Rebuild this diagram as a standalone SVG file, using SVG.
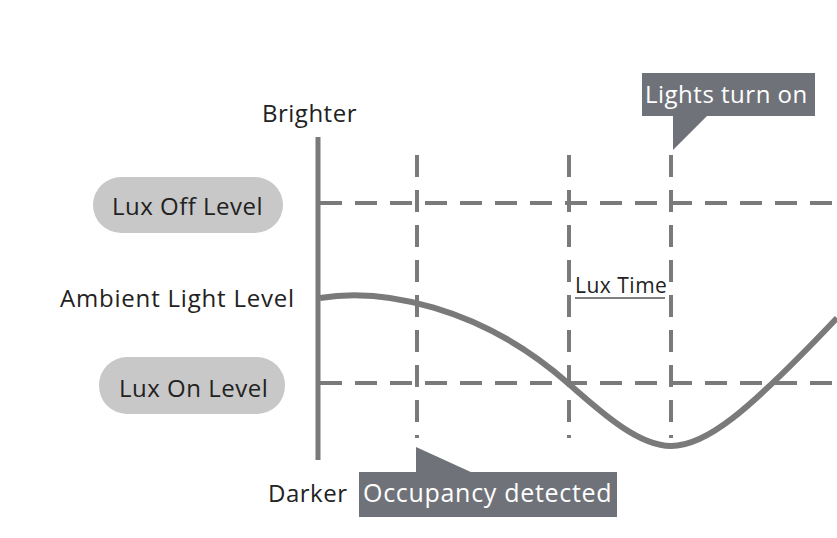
<svg xmlns="http://www.w3.org/2000/svg" width="837" height="538" viewBox="0 0 837 538">
<style>
.lbl{font-family:"Open Sans","Noto Sans","Liberation Sans",sans-serif;font-size:24px;fill:#222;letter-spacing:0.5px}
.wt{font-family:"Open Sans","Noto Sans","Liberation Sans",sans-serif;font-size:24px;fill:#fff;letter-spacing:0.5px}
.dash{stroke:#7a7a7a;stroke-width:4;stroke-dasharray:22 13;fill:none}
.pill{fill:#c8c8c8}
.call{fill:#6f7379}
</style>
<rect width="837" height="538" fill="#fff"/>
<g id="grid">
<line class="dash" x1="320" y1="203" x2="837" y2="203"/>
<line class="dash" x1="320" y1="383" x2="837" y2="383"/>
<line class="dash" x1="417" y1="155" x2="417" y2="438"/>
<line class="dash" x1="569" y1="155" x2="569" y2="438"/>
<line class="dash" x1="671" y1="155" x2="671" y2="438"/>
</g>
<g id="axis">
<line x1="318" y1="137" x2="318" y2="460" stroke="#7a7a7a" stroke-width="5"/>
<text class="lbl" x="262" y="122">Brighter</text>
<text class="lbl" x="268" y="502">Darker</text>
<text class="lbl" x="60" y="307" style="letter-spacing:0.8px">Ambient Light Level</text>
</g>
<g id="curve">
<path d="M320,298 C380,288 480,305 569,384 C605,416 640,446 671,446 C705,446 745,415 837,318" fill="none" stroke="#7a7a7a" stroke-width="6"/>
</g>
<g id="lux-off">
<rect class="pill" x="93" y="177" width="190" height="56" rx="28"/>
<text class="lbl" x="112" y="215">Lux Off Level</text>
</g>
<g id="lux-on">
<rect class="pill" x="99" y="357" width="186" height="57" rx="28"/>
<text class="lbl" x="119" y="397">Lux On Level</text>
</g>
<g id="lux-time">
<text class="lbl" x="575" y="293" style="font-size:21px">Lux Time</text>
<line x1="575" y1="298" x2="665" y2="298" stroke="#808080" stroke-width="2"/>
</g>
<g id="lights-on">
<rect class="call" x="642" y="73" width="173" height="43"/>
<polygon class="call" points="673,115 708,115 673,150"/>
<text class="wt" x="645" y="103">Lights turn on</text>
</g>
<g id="occupancy">
<rect class="call" x="359" y="472" width="258" height="45"/>
<polygon class="call" points="416,447 416,473 473,473"/>
<text class="wt" x="363" y="502" style="font-size:25px;letter-spacing:0.7px">Occupancy detected</text>
</g>
</svg>
